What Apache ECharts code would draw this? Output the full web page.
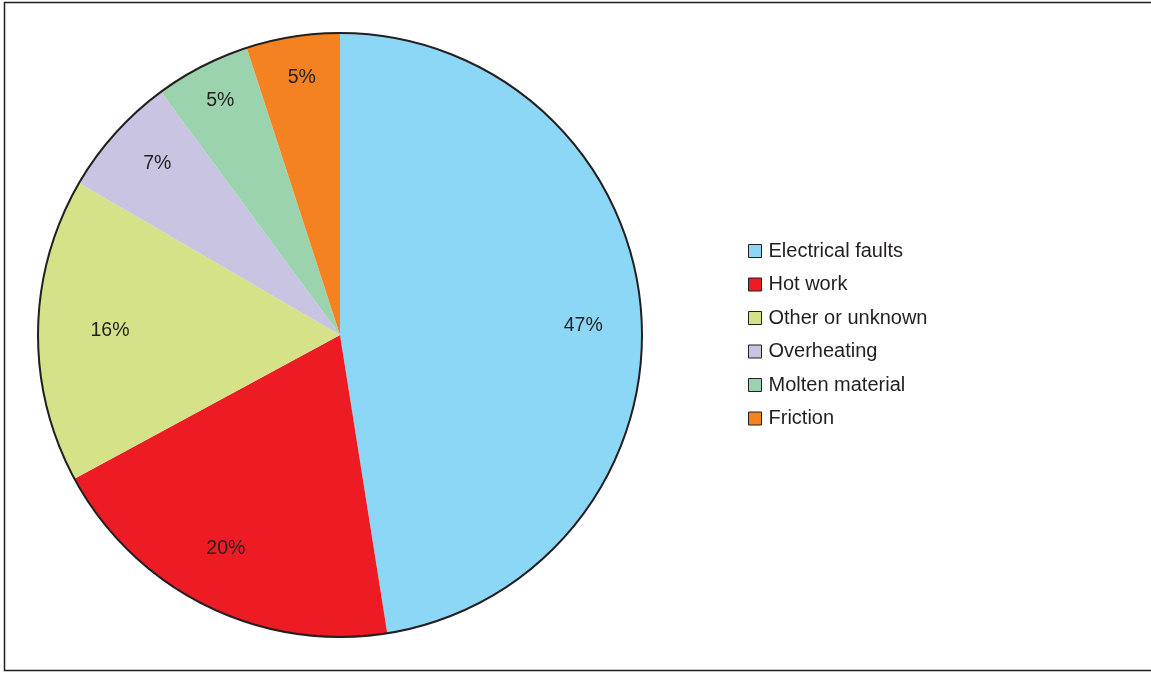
<!DOCTYPE html>
<html>
<head>
<meta charset="utf-8">
<script src="https://cdn.jsdelivr.net/npm/echarts@6/dist/echarts.min.js"></script>
<style>
  html, body { margin: 0; padding: 0; background: #fff; }
  #main { width: 1151px; height: 673px; }
</style>
</head>
<body>
<div id="main"></div>
<script>
var causes = ['Electrical faults', 'Hot work', 'Other or unknown', 'Overheating', 'Molten material', 'Friction'];
var shares = [47.5, 19.6, 16.3, 6.5, 5.1, 5.0];
var shareLabels = ['47%', '20%', '16%', '7%', '5%', '5%'];
var colors = ['#8dd7f6', '#ed1c24', '#d5e288', '#c8c4e2', '#9bd3ae', '#f58220'];
// small nudges so the percentage labels sit where the original put them
var labelNudge = [[-7, 10], [-3, -11], [21, 0], [4, -4], [-5, -11], [1, -9]];

var center = [340, 335];
var R = 302;

var fillData = causes.map(function (c, i) {
    return { name: c, value: shares[i], itemStyle: { color: colors[i] } };
});
var labelData = causes.map(function (c, i) {
    return { name: c, value: shares[i], label: { formatter: shareLabels[i], offset: labelNudge[i] } };
});

var myChart = echarts.init(document.getElementById('main'));
var option = {
    animation: false,
    graphic: [{
        type: 'rect',
        silent: true,
        shape: { x: 4.5, y: 2.5, width: 1160, height: 668 },
        style: { fill: 'none', stroke: '#231f20', lineWidth: 1.5 }
    }],
    legend: {
        orient: 'vertical',
        left: 748,
        top: 241,
        padding: 0,
        itemWidth: 13,
        itemHeight: 13,
        itemGap: 13.5,
        icon: 'rect',
        selectedMode: false,
        itemStyle: { borderColor: '#231f20', borderWidth: 1 },
        textStyle: { fontFamily: 'Liberation Sans, Arial, sans-serif', fontSize: 20, color: '#231f20', lineHeight: 20, padding: [0, 0, 0, 2] },
        data: causes
    },
    series: [
        {
            name: 'fill',
            type: 'pie',
            center: center,
            radius: [0, R],
            startAngle: 90,
            clockwise: true,
            silent: true,
            label: { show: false },
            labelLine: { show: false },
            itemStyle: { borderWidth: 0 },
            data: fillData
        },
        {
            name: 'labels',
            type: 'pie',
            center: center,
            radius: [194, R],
            startAngle: 90,
            clockwise: true,
            silent: true,
            avoidLabelOverlap: false,
            itemStyle: { color: 'rgba(0,0,0,0)', borderWidth: 0 },
            label: {
                show: true,
                position: 'inside',
                fontFamily: 'Liberation Sans, Arial, sans-serif',
                fontSize: 19.5,
                color: '#231f20'
            },
            labelLine: { show: false },
            data: labelData
        },
        {
            name: 'outline',
            type: 'pie',
            center: center,
            radius: [0, R],
            silent: true,
            label: { show: false },
            labelLine: { show: false },
            itemStyle: { color: 'rgba(0,0,0,0)', borderColor: '#231f20', borderWidth: 2 },
            data: [{ name: '', value: 1 }]
        }
    ]
};
myChart.setOption(option);
</script>
</body>
</html>
